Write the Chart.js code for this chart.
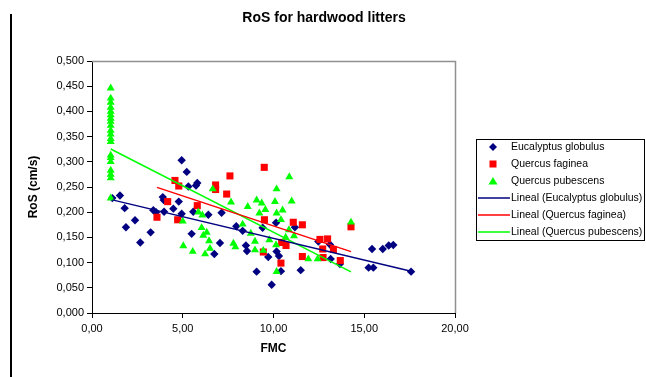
<!DOCTYPE html>
<html><head><meta charset="utf-8">
<script src="https://cdn.jsdelivr.net/npm/chart.js@4/dist/chart.umd.min.js"></script>
<style>html,body{margin:0;padding:0;background:#fff;}#wrap{position:relative;width:646px;height:377px;}</style>
</head><body><div id="wrap"><canvas id="c" width="646" height="377"></canvas></div>
<script>
const chartTitle = 'RoS for hardwood litters';
const xTitle = 'FMC';
const yTitle = 'RoS (cm/s)';
const seriesNames = ['Eucalyptus globulus', 'Quercus faginea', 'Quercus pubescens'];
const trendNames = ['Lineal (Eucalyptus globulus)', 'Lineal (Quercus faginea)', 'Lineal (Quercus pubescens)'];

const eucFMC = [1.12,1.54,1.80,1.87,2.37,2.66,3.23,3.38,3.53,3.90,3.95,3.97,4.48,4.78,4.94,5.22,5.31,5.49,5.58,5.73,5.80,4.94,6.41,6.74,7.05,7.14,7.95,8.30,8.48,8.54,9.07,9.40,9.71,9.90,10.14,10.17,10.30,10.41,11.18,11.50,12.47,13.11,13.15,13.66,15.24,15.50,15.43,16.02,16.35,16.60,17.58];
const eucRoS = [0.228,0.233,0.208,0.170,0.184,0.140,0.160,0.204,0.200,0.230,0.224,0.201,0.207,0.221,0.303,0.280,0.251,0.157,0.201,0.253,0.258,0.197,0.195,0.117,0.139,0.199,0.172,0.163,0.134,0.123,0.082,0.169,0.111,0.056,0.179,0.122,0.113,0.083,0.170,0.085,0.142,0.136,0.107,0.097,0.090,0.090,0.127,0.127,0.134,0.135,0.082];

const fagFMC = [3.58,4.17,4.57,4.72,4.78,5.80,6.81,6.81,7.42,7.60,9.49,9.50,9.44,10.45,10.69,10.41,11.09,11.59,11.59,12.56,12.98,12.71,13.30,12.73,13.68,14.27];
const fagRoS = [0.190,0.221,0.263,0.185,0.252,0.213,0.254,0.245,0.236,0.272,0.289,0.185,0.121,0.140,0.134,0.099,0.180,0.175,0.112,0.146,0.147,0.127,0.126,0.110,0.104,0.171];

const pubFMC = [1.03,1.03,1.03,1.03,1.03,1.03,1.03,1.03,1.03,1.03,1.03,1.03,1.03,1.03,1.03,1.03,1.03,1.03,1.03,1.03,
  5.00,5.03,5.55,5.86,6.08,6.04,6.13,6.32,6.45,6.50,6.23,6.65,7.66,7.79,7.90,8.30,8.58,8.75,8.98,8.98,9.07,9.35,9.22,9.44,9.55,9.77,10.08,10.17,10.17,10.14,10.17,10.41,10.50,10.67,10.85,10.87,11.00,11.13,11.92,12.43,14.27];
const pubRoS = [0.446,0.426,0.418,0.408,0.400,0.393,0.386,0.380,0.372,0.362,0.355,0.346,0.340,0.313,0.308,0.300,0.283,0.275,0.268,0.228,
  0.182,0.133,0.122,0.200,0.194,0.169,0.154,0.160,0.143,0.128,0.117,0.246,0.220,0.138,0.131,0.176,0.211,0.158,0.142,0.125,0.224,0.218,0.198,0.124,0.205,0.145,0.221,0.246,0.198,0.135,0.082,0.185,0.204,0.150,0.165,0.270,0.222,0.153,0.107,0.107,0.180];

const xTicksMin = 0, xTicksMax = 20, xStep = 5;
const yTicksMin = 0, yTicksMax = 0.5, yStep = 0.05;

const colors = ['#000080', '#FF0000', '#00FF00'];
const FONT = "'Liberation Sans', Arial, sans-serif";

function pts(xs, ys) { return xs.map((x, i) => ({x: x, y: ys[i]})); }
function trend(xs, ys) {
  const n = xs.length;
  let sx = 0, sy = 0, sxx = 0, sxy = 0;
  for (let i = 0; i < n; i++) { sx += xs[i]; sy += ys[i]; sxx += xs[i]*xs[i]; sxy += xs[i]*ys[i]; }
  const b = (n*sxy - sx*sy) / (n*sxx - sx*sx);
  const a = (sy - b*sx) / n;
  const lo = Math.min(...xs), hi = Math.max(...xs);
  return [{x: lo, y: a + b*lo}, {x: hi, y: a + b*hi}];
}

const decoPlugin = {
  id: 'deco',
  beforeDatasetsDraw(chart) {
    const {ctx, chartArea: a} = chart;
    ctx.save();
    ctx.strokeStyle = '#909090';
    ctx.lineWidth = 1.5;
    ctx.beginPath();
    ctx.moveTo(a.left, a.top + 0.5);
    ctx.lineTo(a.right + 0.5, a.top + 0.5);
    ctx.lineTo(a.right + 0.5, a.bottom);
    ctx.stroke();
    ctx.restore();
  },
  afterDraw(chart) {
    const ctx = chart.ctx;
    ctx.save();
    ctx.strokeStyle = '#000';
    ctx.lineWidth = 2;
    ctx.beginPath(); ctx.moveTo(11, 14); ctx.lineTo(11, 377); ctx.stroke();
    ctx.fillStyle = '#000';
    ctx.font = 'bold 14px ' + FONT;
    ctx.textAlign = 'center'; ctx.textBaseline = 'middle';
    ctx.fillText(chartTitle, 324, 18);
    const lx = 476, ly = 139, lw = 169, lh = 101;
    ctx.lineWidth = 1; ctx.strokeStyle = '#000';
    ctx.strokeRect(lx + 0.5, ly + 0.5, lw - 1, lh);
    ctx.font = '10.5px ' + FONT;
    ctx.textAlign = 'left';
    const labels = seriesNames.concat(trendNames);
    for (let i = 0; i < 6; i++) {
      const y = 147 + i * 17;
      const c = colors[i % 3];
      ctx.fillStyle = c; ctx.strokeStyle = c;
      if (i === 0) {
        ctx.beginPath(); ctx.moveTo(493, y - 4); ctx.lineTo(497, y); ctx.lineTo(493, y + 4); ctx.lineTo(489, y); ctx.closePath(); ctx.fill();
      } else if (i === 1) {
        ctx.fillRect(489.5, y - 3.5, 7, 7);
      } else if (i === 2) {
        ctx.beginPath(); ctx.moveTo(493, y - 4); ctx.lineTo(497.5, y + 3.5); ctx.lineTo(488.5, y + 3.5); ctx.closePath(); ctx.fill();
      } else {
        ctx.lineWidth = 1.5;
        ctx.beginPath(); ctx.moveTo(478, y); ctx.lineTo(510, y); ctx.stroke();
      }
      ctx.fillStyle = '#000';
      ctx.fillText(labels[i], 511, y);
    }
    ctx.restore();
  }
};

const data = {
  datasets: [
    {label: trendNames[0], type: 'line', data: trend(eucFMC, eucRoS), borderColor: colors[0], borderWidth: 1.5, pointRadius: 0, order: 0},
    {label: trendNames[1], type: 'line', data: trend(fagFMC, fagRoS), borderColor: colors[1], borderWidth: 1.5, pointRadius: 0, order: 0},
    {label: trendNames[2], type: 'line', data: trend(pubFMC, pubRoS), borderColor: colors[2], borderWidth: 1.5, pointRadius: 0, order: 0},
    {label: seriesNames[2], data: pts(pubFMC, pubRoS), pointStyle: 'triangle', pointRadius: 4.6, backgroundColor: colors[2], borderColor: colors[2], borderWidth: 0, order: 1},
    {label: seriesNames[1], data: pts(fagFMC, fagRoS), pointStyle: 'rect', pointRadius: 5, backgroundColor: colors[1], borderColor: colors[1], borderWidth: 0, order: 2},
    {label: seriesNames[0], data: pts(eucFMC, eucRoS), pointStyle: 'rectRot', pointRadius: 4.2, backgroundColor: colors[0], borderColor: colors[0], borderWidth: 0, order: 3}
  ]
};

new Chart(document.getElementById('c'), {
  type: 'scatter',
  data: data,
  plugins: [decoPlugin],
  options: {
    responsive: false,
    animation: false,
    devicePixelRatio: 1,
    layout: {padding: {left: 0, right: 191, top: 61, bottom: 0}},
    plugins: {legend: {display: false}, title: {display: false}, tooltip: {enabled: false}},
    scales: {
      x: {
        type: 'linear', position: 'bottom', min: xTicksMin, max: xTicksMax,
        afterFit(s) { s.height = 64; },
        ticks: {stepSize: xStep, color: '#000', font: {family: FONT, size: 11}, padding: 4, maxRotation: 0,
          callback: v => v.toFixed(2).replace('.', ',')},
        grid: {drawOnChartArea: false, drawTicks: true, tickLength: 5, color: '#000'},
        border: {color: '#000', width: 1},
        title: {display: true, text: xTitle, color: '#000', font: {family: FONT, size: 12, weight: 'bold'}, padding: {top: 0, bottom: 20.8}}
      },
      y: {
        type: 'linear', position: 'left', min: yTicksMin, max: yTicksMax,
        afterFit(s) { s.width = 92; },
        ticks: {stepSize: yStep, color: '#000', font: {family: FONT, size: 11}, padding: 3,
          callback: v => v.toFixed(3).replace('.', ',')},
        grid: {drawOnChartArea: false, drawTicks: true, tickLength: 5, color: '#000'},
        border: {color: '#000', width: 1},
        title: {display: true, text: yTitle, color: '#000', font: {family: FONT, size: 12, weight: 'bold'}, padding: {top: 26.8, bottom: 0}}
      }
    }
  }
});
</script></body></html>
